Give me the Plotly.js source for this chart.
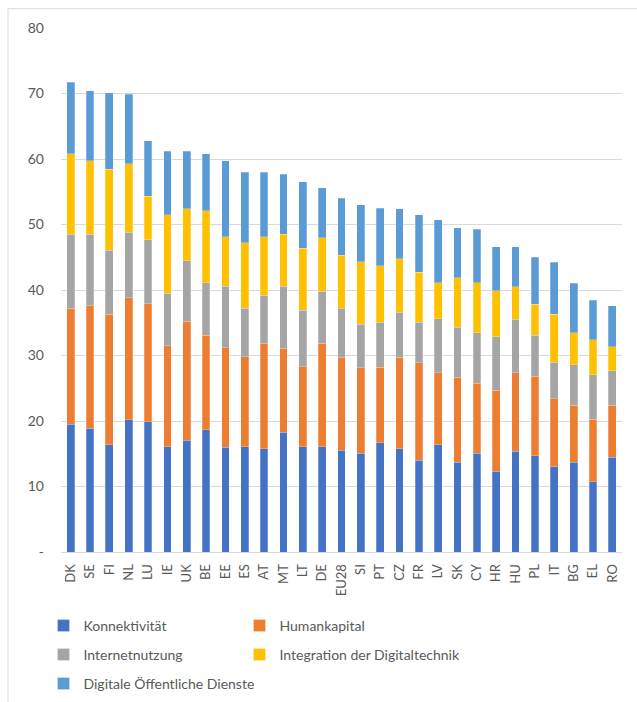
<!DOCTYPE html>
<html>
<head>
<meta charset="utf-8">
<script src="https://cdn.plot.ly/plotly-3.0.1.min.js"></script>
<style>html,body{margin:0;padding:0;background:#fff;}#chart{width:637px;height:702px;}</style>
</head>
<body>
<div id="chart"></div>
<script>
var countries = ["DK","SE","FI","NL","LU","IE","UK","BE","EE","ES","AT","MT","LT","DE","EU28","SI","PT","CZ","FR","LV","SK","CY","HR","HU","PL","IT","BG","EL","RO"];
var konnektivitaet = [19.5,18.9,16.4,20.2,19.9,16.1,17.1,18.7,16.0,16.1,15.8,18.3,16.1,16.1,15.5,15.1,16.7,15.8,14.0,16.4,13.7,15.1,12.3,15.4,14.7,13.0,13.7,10.7,14.5];
var humankapital = [17.7,18.7,19.9,18.6,18.0,15.4,18.1,14.4,15.2,13.7,16.1,12.8,12.2,15.8,14.2,13.0,11.5,13.9,14.9,11.0,13.0,10.7,12.4,12.0,12.1,10.4,8.7,9.6,7.9];
var internetnutzung = [11.3,10.9,9.8,10.0,9.8,8.0,9.3,8.0,9.4,7.4,7.3,9.5,8.6,7.9,7.5,6.7,6.9,6.9,6.2,8.2,7.6,7.7,8.2,8.1,6.3,5.6,6.2,6.8,5.3];
var integration = [12.3,11.2,12.3,10.5,6.6,12.0,7.9,11.0,7.5,10.0,8.9,7.9,9.5,8.2,8.1,9.5,8.6,8.2,7.6,5.5,7.6,7.6,7.0,5.0,4.7,7.3,4.9,5.3,3.6];
var dienste = [10.9,10.7,11.7,10.6,8.5,9.7,8.8,8.7,11.6,10.8,9.9,9.2,10.1,7.6,8.7,8.7,8.8,7.6,8.8,9.6,7.6,8.2,6.7,6.1,7.2,7.9,7.5,6.0,6.3];
var seriesNames = ["Konnektivität","Humankapital","Internetnutzung","Integration der Digitaltechnik","Digitale Öffentliche Dienste"];
var seriesColors = ["#4472C4","#ED7D31","#A5A5A5","#FFC000","#5B9BD5"];
var yTickVals = [0,10,20,30,40,50,60,70,80];
var yTickText = ["-","10","20","30","40","50","60","70","80"];

var seriesData = [konnektivitaet, humankapital, internetnutzung, integration, dienste];
var legendIds = ["legend","legend2","legend3","legend4","legend5"];
var traces = seriesData.map(function(vals, i){
  return {
    type: "bar",
    name: seriesNames[i],
    x: countries,
    y: vals,
    marker: {color: seriesColors[i], line: {color: "rgba(255,255,255,0.5)", width: 0.5}},
    legend: legendIds[i],
    hoverinfo: "x+y+name"
  };
});

var F = "Lato, 'Noto Sans', sans-serif";
var legendBase = function(x, y){
  return {
    orientation: "h",
    xref: "container", yref: "container",
    x: x, xanchor: "left",
    y: y, yanchor: "middle",
    font: {family: F, size: 14, color: "#595959"},
    bgcolor: "rgba(0,0,0,0)"
  };
};
var col1 = (85 - 41.5) / 637, col2 = (281 - 41.5) / 637;

var layout = {
  width: 637, height: 702,
  margin: {l: 61, r: 15, t: 28, b: 150, autoexpand: false},
  paper_bgcolor: "#fff",
  plot_bgcolor: "#fff",
  barmode: "stack",
  bargap: 0.6,
  font: {family: F, size: 14, color: "#595959"},
  showlegend: true,
  xaxis: {
    type: "category",
    tickangle: -90,
    tickfont: {family: F, size: 13, color: "#595959"},
    showgrid: false,
    showline: true,
    linecolor: "#D9D9D9",
    linewidth: 1,
    ticks: "",
    ticklabelstandoff: 6,
    zeroline: false,
    automargin: false
  },
  yaxis: {
    range: [0, 80],
    tickvals: yTickVals,
    ticktext: yTickText,
    tickfont: {family: F, size: 14, color: "#595959"},
    showgrid: true,
    gridcolor: "#D9D9D9",
    gridwidth: 1,
    zeroline: false,
    showline: false,
    ticks: "",
    ticklabelstandoff: 16,
    automargin: false
  },
  legend: legendBase(col1, 1 - 626/702),
  legend2: legendBase(col2, 1 - 626/702),
  legend3: legendBase(col1, 1 - 655/702),
  legend4: legendBase(col2, 1 - 655/702),
  legend5: legendBase(col1, 1 - 684/702),
  shapes: [{
    type: "rect", xref: "paper", yref: "paper",
    x0: -0.0945, x1: 1.1, y0: -0.4, y1: 1.0369,
    line: {color: "#D9D9D9", width: 1},
    fillcolor: "rgba(0,0,0,0)",
    layer: "below"
  }]
};

Plotly.newPlot("chart", traces, layout, {displayModeBar: false, staticPlot: true});
</script>
</body>
</html>
